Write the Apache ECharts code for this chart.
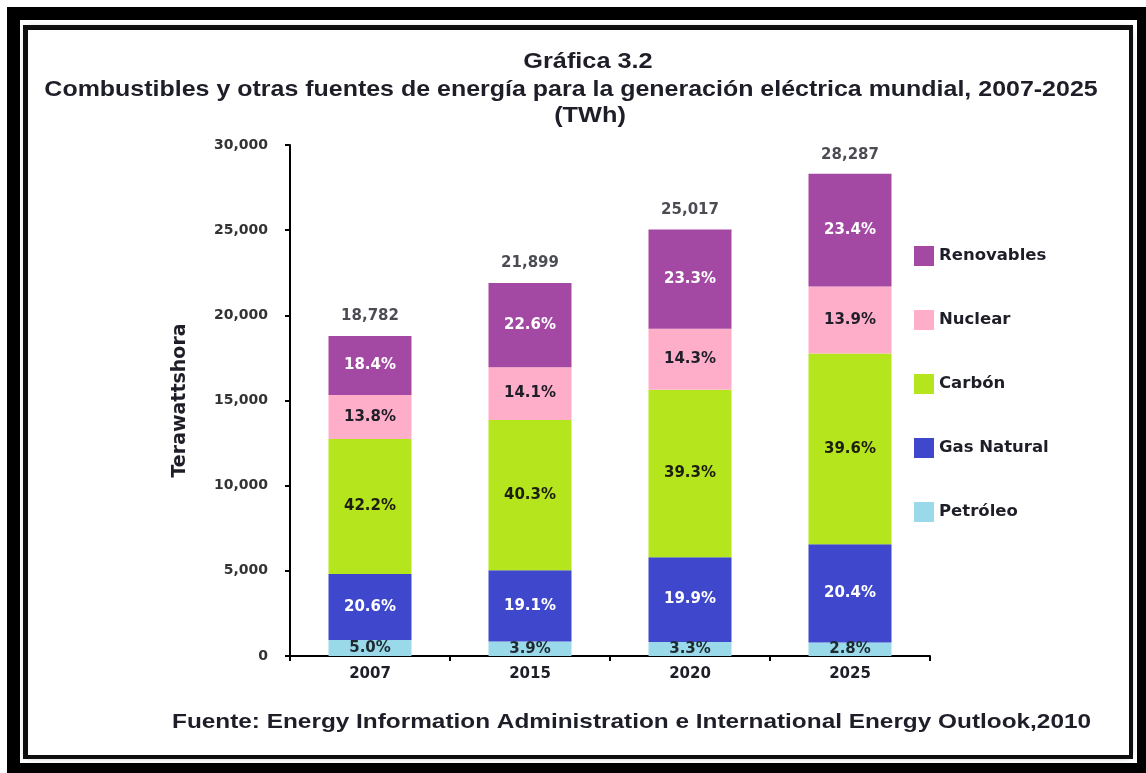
<!DOCTYPE html>
<html>
<head>
<meta charset="utf-8">
<script src="https://cdn.jsdelivr.net/npm/echarts@6/dist/echarts.min.js"></script>
<style>
html,body{margin:0;padding:0;background:#fff;}
#c{width:1146px;height:773px;}
</style>
</head>
<body>
<div id="c"></div>
<script>
const categories = ['2007', '2015', '2020', '2025'];
const totals = [18782, 21899, 25017, 28287];
const petroleo = [939, 854, 826, 792];
const gasNatural = [3869, 4183, 4978, 5771];
const carbon = [7926, 8825, 9832, 11202];
const nuclear = [2592, 3088, 3577, 3932];
const renovables = [3456, 4949, 5829, 6619];
const pctPetroleo = ['5.0%', '3.9%', '3.3%', '2.8%'];
const pctGas = ['20.6%', '19.1%', '19.9%', '20.4%'];
const pctCarbon = ['42.2%', '40.3%', '39.3%', '39.6%'];
const pctNuclear = ['13.8%', '14.1%', '14.3%', '13.9%'];
const pctRenov = ['18.4%', '22.6%', '23.3%', '23.4%'];
const yTicks = [0, 5000, 10000, 15000, 20000, 25000, 30000];

const TFONT = '"Liberation Sans", Arial, sans-serif';
const CFONT = '"DejaVu Sans", Verdana, sans-serif';
const TXT = '#1e1e28';

function fmt(n){ return n.toLocaleString('en-US'); }

function barSeries(name, data, pcts, color, labelColor){
  return {
    name: name, type: 'bar', stack: 'total', data: data,
    barWidth: 83,
    itemStyle: {color: color},
    label: {
      show: true, position: 'inside', color: labelColor,
      fontFamily: CFONT, fontWeight: 'bold', fontSize: 15,
      formatter: p => pcts[p.dataIndex]
    }
  };
}

function titleText(str, x, y, size, sx, align){
  return {type: 'text', x: x, y: y, scaleX: sx, z: 10,
    style: {text: str, fill: TXT, font: 'bold ' + size + 'px ' + TFONT,
      textAlign: align || 'center', textVerticalAlign: 'middle'}};
}

const chart = echarts.init(document.getElementById('c'), null, {renderer: 'canvas'});
chart.setOption({
  animation: false,
  backgroundColor: '#fff',
  graphic: [
    {type: 'rect', z: -10, shape: {x: 7, y: 7, width: 1139, height: 766}, style: {fill: '#000'}},
    {type: 'rect', z: -9, shape: {x: 20, y: 20, width: 1117, height: 743}, style: {fill: '#fff'}},
    {type: 'rect', z: -8, shape: {x: 23, y: 25, width: 1110, height: 734}, style: {fill: '#111'}},
    {type: 'rect', z: -7, shape: {x: 28, y: 30, width: 1101, height: 725}, style: {fill: '#fff', shadowBlur: 8, shadowColor: 'rgba(0,0,0,0.5)'}},
    titleText('Gráfica 3.2', 588, 62, 22, 1.15),
    titleText('Combustibles y otras fuentes de energía para la generación eléctrica mundial, 2007-2025', 571, 90, 22, 1.135),
    titleText('(TWh)', 590, 116, 22, 1.15),
    titleText('Fuente: Energy Information Administration e International Energy Outlook,2010', 172, 722, 21, 1.16, 'left')
  ],
  grid: {left: 290, right: 216, top: 145, bottom: 117, containLabel: false},
  legend: {
    orient: 'vertical', left: 909, top: 241,
    itemWidth: 20, itemHeight: 20, itemGap: 44,
    icon: 'rect',
    data: ['Renovables', 'Nuclear', 'Carbón', 'Gas Natural', 'Petróleo'],
    textStyle: {fontFamily: CFONT, fontWeight: 'bold', fontSize: 16.5, color: TXT}
  },
  xAxis: {
    type: 'category', data: categories,
    axisLine: {lineStyle: {color: '#000', width: 2}},
    axisTick: {show: true, length: 5, lineStyle: {color: '#000', width: 2}},
    axisLabel: {fontFamily: CFONT, fontWeight: 'bold', fontSize: 15, color: TXT, margin: 11}
  },
  yAxis: {
    type: 'value', min: 0, max: 30000, interval: 5000,
    name: 'Terawattshora', nameLocation: 'middle', nameGap: 100,
    nameTextStyle: {fontFamily: CFONT, fontWeight: 'bold', fontSize: 19, color: TXT},
    axisLine: {show: true, lineStyle: {color: '#000', width: 2}},
    axisTick: {show: true, length: 5, lineStyle: {color: '#000', width: 2}},
    splitLine: {show: false},
    axisLabel: {fontFamily: CFONT, fontWeight: 'bold', fontSize: 14, color: '#333', margin: 22,
      formatter: v => yTicks.includes(v) ? fmt(v) : ''}
  },
  series: [
    barSeries('Petróleo', petroleo, pctPetroleo, '#99d9ea', '#1e2a30'),
    barSeries('Gas Natural', gasNatural, pctGas, '#3f48cc', '#ffffff'),
    barSeries('Carbón', carbon, pctCarbon, '#b5e61d', '#1e1e10'),
    barSeries('Nuclear', nuclear, pctNuclear, '#ffaec9', '#1e1e28'),
    barSeries('Renovables', renovables, pctRenov, '#a349a4', '#ffffff'),
    {
      name: 'Total', type: 'scatter', data: totals, symbolSize: 0,
      label: {show: true, position: 'top', distance: 12, color: TXT,
        fontFamily: CFONT, fontWeight: 'bold', fontSize: 15,
        formatter: p => fmt(p.value)},
      tooltip: {show: false}, silent: true
    }
  ]
});
</script>
</body>
</html>
